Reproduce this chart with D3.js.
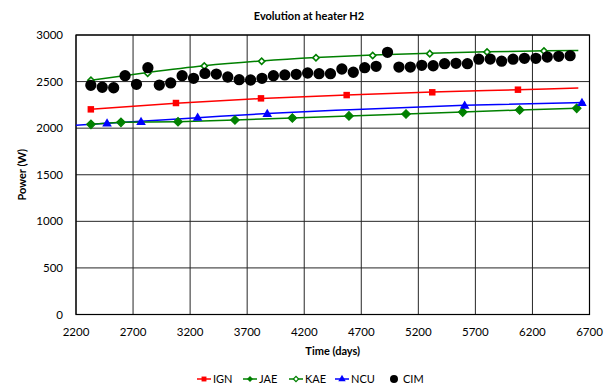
<!DOCTYPE html>
<html>
<head>
<meta charset="utf-8">
<script src="https://cdn.jsdelivr.net/npm/d3@7"></script>
<style>
  body{margin:0;background:#fff;}
  text{font-family:Lato,"Open Sans",sans-serif;fill:#000;}
</style>
</head>
<body>
<svg id="chart" width="610" height="389"></svg>
<script>
/* ---------- DATA ---------- */
const X_TICKS = [2200,2700,3200,3700,4200,4700,5200,5700,6200,6700];
const Y_TICKS = [0,500,1000,1500,2000,2500,3000];

const IGN_T = [2330,3076,3821,4572,5322,6073];
const IGN_P = [2202,2270,2320,2355,2385,2413];
const IGN_TREND = [[2330,2203],[3076,2268],[3821,2318],[4572,2355],[5322,2387],[6073,2412],[6602,2431]];

const JAE_T = [2331,2594,3094,3593,4096,4592,5092,5589,6088,6588];
const JAE_P = [2041,2063,2069,2088,2109,2131,2152,2173,2195,2213];

const KAE_T = [2331,2828,3324,3827,4303,4800,5300,5802,6301];
const KAE_P = [2514,2589,2667,2718,2756,2780,2800,2818,2828];
const KAE_TREND = [[2331,2515],[2828,2598],[3324,2670],[3827,2722],[4303,2758],[4800,2785],[5300,2804],[5800,2820],[6300,2830],[6602,2834]];

const NCU_T = [2472,2770,3266,3876,5606,6634];
const NCU_P = [2048,2063,2109,2149,2238,2267];
const NCU_TREND = [[2200,2030],[2472,2052],[3266,2112],[3876,2158],[4600,2198],[5606,2245],[6660,2276]];

const CIM_T = [2330,2430,2530,2630,2730,2830,2930,3030,3130,3230,3330,3430,3530,3630,3730,
               3830,3930,4030,4130,4230,4330,4430,4530,4630,4730,4830,4930,5030,5130,5230,
               5330,5430,5530,5630,5730,5830,5930,6030,6130,6230,6330,6430,6530];
const CIM_P = [2460,2439,2434,2563,2471,2649,2463,2485,2563,2535,2587,2581,2549,2520,2517,
               2535,2563,2571,2578,2592,2585,2585,2635,2600,2649,2664,2814,2656,2656,2675,
               2670,2692,2696,2692,2740,2742,2719,2740,2750,2750,2764,2771,2778];

const RED="#ff0000", GREEN="#008000", BLUE="#0000ff", BLACK="#000000";

/* ---------- LAYOUT ---------- */
const L=76, R=589.5, T=35, B=314.5;
const svg=d3.select("#chart");
const x=d3.scaleLinear().domain([2200,6700]).range([L,R]);
const y=d3.scaleLinear().domain([0,3000]).range([B,T]);

/* grid */
const g=svg.append("g");
g.selectAll("line.hg").data(Y_TICKS).enter().append("line")
  .attr("x1",L).attr("x2",R).attr("y1",d=>y(d)).attr("y2",d=>y(d))
  .attr("stroke","#262626").attr("stroke-width",1);
g.selectAll("line.vg").data(X_TICKS).enter().append("line")
  .attr("y1",T).attr("y2",B).attr("x1",d=>x(d)).attr("x2",d=>x(d))
  .attr("stroke","#262626").attr("stroke-width",1);
g.append("rect").attr("x",L).attr("y",T).attr("width",R-L).attr("height",B-T)
  .attr("fill","none").attr("stroke","#000").attr("stroke-width",1.2);

/* tick labels */
g.selectAll("text.yt").data(Y_TICKS).enter().append("text")
  .attr("x",63).attr("y",d=>y(d)).attr("dy","0.35em").attr("text-anchor","end")
  .style("font-size","11.5px").text(d=>d);
g.selectAll("text.xt").data(X_TICKS).enter().append("text")
  .attr("x",d=>x(d)).attr("y",332).attr("dy","0.35em").attr("text-anchor","middle")
  .style("font-size","11.5px").text(d=>d);

/* titles */
svg.append("text").attr("x",309).attr("y",16).attr("dy","0.35em").attr("text-anchor","middle")
  .style("font-size","11px").style("font-weight","bold").text("Evolution at heater H2");
svg.append("text").attr("x",(L+R)/2).attr("y",351).attr("dy","0.35em").attr("text-anchor","middle")
  .style("font-size","11px").style("font-weight","bold").text("Time (days)");
svg.append("text").attr("transform",`translate(22,${(T+B)/2}) rotate(-90)`).attr("dy","0.35em")
  .attr("text-anchor","middle").style("font-size","11px").style("font-weight","bold").text("Power (W)");

/* lines */
const line=d3.line().x(d=>x(d[0])).y(d=>y(d[1])).curve(d3.curveMonotoneX);
const plot=svg.append("g");
plot.append("path").attr("d",line(IGN_TREND)).attr("fill","none").attr("stroke",RED).attr("stroke-width",1.5);
plot.append("path").attr("d",line(KAE_TREND)).attr("fill","none").attr("stroke",GREEN).attr("stroke-width",1.5);
plot.append("path").attr("d",line(NCU_TREND)).attr("fill","none").attr("stroke",BLUE).attr("stroke-width",1.5);
plot.append("path").attr("d",d3.line().x(d=>x(d[0])).y(d=>y(d[1]))(d3.zip(JAE_T,JAE_P)))
  .attr("fill","none").attr("stroke",GREEN).attr("stroke-width",1.5);

/* markers — diamonds are squares turned 45° */
const sym=(type,size)=>d3.symbol().type(type).size(size)();
function markers(T_,P_,type,size,fill,stroke,sw,rot){
  plot.append("g").selectAll("path").data(d3.zip(T_,P_)).enter().append("path")
    .attr("transform",d=>`translate(${x(d[0])},${y(d[1])}) rotate(${rot||0})`)
    .attr("d",sym(type,size)).attr("fill",fill).attr("stroke",stroke).attr("stroke-width",sw);
}
markers(IGN_T,IGN_P,d3.symbolSquare,42,RED,"none",0);
markers(JAE_T,JAE_P,d3.symbolSquare,36,GREEN,GREEN,1.2,45);
markers(KAE_T,KAE_P,d3.symbolSquare,20,"#fff",GREEN,1.6,45);
markers(NCU_T,NCU_P,d3.symbolTriangle,40,BLUE,"none",0);
markers(CIM_T,CIM_P,d3.symbolCircle,100,BLACK,"none",0);

/* legend */
const LEG=[
  {name:"IGN",x:197,c:RED,type:d3.symbolSquare,size:24,fill:RED,rot:0,line:true},
  {name:"JAE",x:243,c:GREEN,type:d3.symbolSquare,size:18,fill:GREEN,rot:45,line:true},
  {name:"KAE",x:289,c:GREEN,type:d3.symbolSquare,size:14,fill:"#fff",rot:45,line:true},
  {name:"NCU",x:335,c:BLUE,type:d3.symbolTriangle,size:24,fill:BLUE,rot:0,line:true},
  {name:"CIM",x:387,c:BLACK,type:d3.symbolCircle,size:50,fill:BLACK,rot:0,line:false}
];
const lg=svg.append("g").attr("transform","translate(0,379)");
LEG.forEach(d=>{
  if(d.line) lg.append("line").attr("x1",d.x).attr("x2",d.x+14).attr("y1",0).attr("y2",0)
    .attr("stroke",d.c).attr("stroke-width",1.5);
  lg.append("path").attr("transform",`translate(${d.x+7},0) rotate(${d.rot})`).attr("d",sym(d.type,d.size))
    .attr("fill",d.fill).attr("stroke",d.fill==="#fff"?d.c:"none").attr("stroke-width",1.2);
  lg.append("text").attr("x",d.x+16).attr("y",0).attr("dy","0.35em")
    .style("font-size","11px").text(d.name);
});
</script>
</body>
</html>
